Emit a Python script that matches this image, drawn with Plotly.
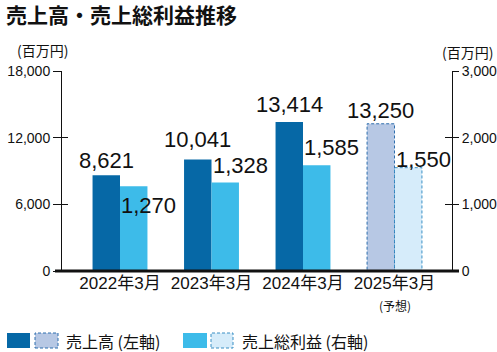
import plotly.graph_objects as go

# ---- data ----
categories = ["2022年3月", "2023年3月", "2024年3月", "2025年3月"]
sales = [8621, 10041, 13414, 13250]          # 売上高 (left axis)
gross_profit = [1270, 1328, 1585, 1550]      # 売上総利益 (right axis)
forecast = [False, False, False, True]
sales_ticks = [0, 6000, 12000, 18000]
gp_ticks = [0, 1000, 2000, 3000]

# ---- style ----
C_SALES = "#0668a6"
C_GP = "#3dbbe9"
C_SALES_F = "#b7c8e4"
C_GP_F = "#d6ecfa"
C_SALES_EDGE = "#2f6fae"
C_GP_EDGE = "#3a8fc4"
NUM_FONT = "Liberation Sans, Arial, sans-serif"
JP_FONT = "Noto Sans CJK JP, sans-serif"
MIX_FONT = "Liberation Sans, Arial, Noto Sans CJK JP, sans-serif"
BW = 0.30
sales_label_shift = [0, 5, 3, -1]
gp_label_shift = [None, 2, 3, -6]

L, R_, T, B = 62, 45, 71, 81
W, H = 497, 352
PW = W - L - R_
PH = H - T - B


def PX(px):
    return (px - L) / PW


def PY(py):
    return (H - B - py) / PH


x = list(range(len(categories)))
act = [i for i in x if not forecast[i]]
fc = [i for i in x if forecast[i]]

fig = go.Figure()
fig.add_bar(x=act, y=[sales[i] for i in act], offset=-BW, width=BW,
            marker=dict(color=C_SALES, line=dict(width=0)), yaxis="y", hoverinfo="skip")
fig.add_bar(x=fc, y=[sales[i] for i in fc], offset=-BW, width=BW,
            marker=dict(color=C_SALES_F, line=dict(width=0)), yaxis="y", hoverinfo="skip")
fig.add_bar(x=act, y=[gross_profit[i] for i in act], offset=0, width=BW,
            marker=dict(color=C_GP, line=dict(width=0)), yaxis="y2", hoverinfo="skip")
fig.add_bar(x=fc, y=[gross_profit[i] for i in fc], offset=0, width=BW,
            marker=dict(color=C_GP_F, line=dict(width=0)), yaxis="y2", hoverinfo="skip")
# invisible helpers so the inner-tick overlay axes are drawn
fig.add_scatter(x=[0], y=[0], yaxis="y3", mode="markers", marker=dict(opacity=0),
                hoverinfo="skip", showlegend=False)
fig.add_scatter(x=[0], y=[0], yaxis="y4", mode="markers", marker=dict(opacity=0),
                hoverinfo="skip", showlegend=False)

# dashed outlines for forecast bars
for i in fc:
    fig.add_shape(type="rect", xref="x", yref="y", x0=i - BW, x1=i, y0=0, y1=sales[i],
                  line=dict(color=C_SALES_EDGE, width=1, dash="3px,2px"), layer="above")
    fig.add_shape(type="rect", xref="x", yref="y2", x0=i, x1=i + BW, y0=0, y1=gross_profit[i],
                  line=dict(color=C_GP_EDGE, width=1, dash="3px,2px"), layer="above")

# thick baseline, extending a little past both vertical axes
fig.add_shape(type="line", xref="paper", yref="paper", x0=PX(55), x1=PX(459), y0=0, y1=0,
              line=dict(color="#111", width=3), layer="above")

# value labels
for i in x:
    fig.add_annotation(x=i - BW / 2, y=sales[i], xref="x", yref="y", text=f"{sales[i]:,}",
                       showarrow=False, xanchor="center", yanchor="bottom",
                       yshift=sales_label_shift[i],
                       font=dict(family=NUM_FONT, size=22, color="#111"))
    s = gp_label_shift[i]
    if s is None:
        fig.add_annotation(x=i + BW / 2, y=gross_profit[i], xref="x", yref="y2",
                           text=f"{gross_profit[i]:,}", showarrow=False, xanchor="center",
                           yanchor="top", yshift=-5, xshift=15,
                           font=dict(family=NUM_FONT, size=22, color="#111"))
    else:
        fig.add_annotation(x=i + BW / 2, y=gross_profit[i], xref="x", yref="y2",
                           text=f"{gross_profit[i]:,}", showarrow=False, xanchor="center",
                           yanchor="bottom", yshift=s, xshift=15,
                           font=dict(family=NUM_FONT, size=22, color="#111"))

# title and units
fig.add_annotation(x=PX(4), y=PY(-3), xref="paper", yref="paper", text="<b>売上高・売上総利益推移</b>",
                   showarrow=False, xanchor="left", yanchor="top", align="left",
                   font=dict(family=JP_FONT, size=21, color="#111"))
fig.add_annotation(x=PX(42), y=PY(50), xref="paper", yref="paper", text="(百万円)",
                   showarrow=False, xanchor="center", yanchor="middle",
                   font=dict(family=JP_FONT, size=14, color="#111"))
fig.add_annotation(x=PX(467), y=PY(52), xref="paper", yref="paper", text="(百万円)",
                   showarrow=False, xanchor="center", yanchor="middle",
                   font=dict(family=JP_FONT, size=14, color="#111"))
fig.add_annotation(x=fc[0], y=PY(305), xref="x", yref="paper", text="(予想)",
                   showarrow=False, xanchor="center", yanchor="middle",
                   font=dict(family=JP_FONT, size=12, color="#111"))

# legend (drawn manually)
def swatch(x0, x1, fill, edge=None):
    fig.add_shape(type="rect", xref="paper", yref="paper", x0=PX(x0), x1=PX(x1),
                  y0=PY(348), y1=PY(333), fillcolor=fill,
                  line=dict(color=edge or fill, width=1 if edge else 0,
                            dash="3px,2px" if edge else "solid"))

swatch(7, 30, C_SALES)
swatch(35, 58, C_SALES_F, C_SALES_EDGE)
swatch(183, 207, C_GP)
swatch(211, 233, C_GP_F, C_GP_EDGE)
fig.add_annotation(x=PX(64), y=PY(341), xref="paper", yref="paper", text="売上高 (左軸)",
                   showarrow=False, xanchor="left", yanchor="middle", align="left",
                   font=dict(family=JP_FONT, size=16, color="#111"))
fig.add_annotation(x=PX(240), y=PY(341), xref="paper", yref="paper", text="売上総利益 (右軸)",
                   showarrow=False, xanchor="left", yanchor="middle", align="left",
                   font=dict(family=JP_FONT, size=16, color="#111"))

x_left = -(120 - L) / 91.5
x_right = 3 + (W - R_ - 394.5) / 91.5

axis_common = dict(showgrid=False, zeroline=False, linecolor="#111", linewidth=1,
                   tickcolor="#111", tickwidth=1, fixedrange=True)

fig.update_layout(
    width=W, height=H, margin=dict(l=L, r=R_, t=T, b=B, autoexpand=False),
    paper_bgcolor="white", plot_bgcolor="white", showlegend=False, barmode="overlay",
    xaxis=dict(range=[x_left, x_right], tickvals=x, ticktext=categories, showgrid=False,
               zeroline=False, showline=False, ticks="",
               tickfont=dict(family=MIX_FONT, size=17, color="#111"), fixedrange=True),
    yaxis=dict(range=[0, 18000], tickvals=sales_ticks, tickformat=",",
               showline=True, ticks="outside", ticklen=8,
               tickfont=dict(family=NUM_FONT, size=14, color="#111"), **axis_common),
    yaxis2=dict(range=[0, 3000], tickvals=gp_ticks, tickformat=",",
                side="right", overlaying="y", showline=True,
                ticks="outside", ticklen=6,
                tickfont=dict(family=NUM_FONT, size=14, color="#111"), **axis_common),
    yaxis3=dict(range=[0, 18000], tickvals=sales_ticks[1:],
                overlaying="y", showline=False, ticks="inside", ticklen=6,
                showticklabels=False, **axis_common),
    yaxis4=dict(range=[0, 3000], tickvals=gp_ticks[1:],
                side="right", overlaying="y", showline=False, ticks="inside", ticklen=7,
                showticklabels=False, **axis_common),
)

fig.write_html("out.html")
